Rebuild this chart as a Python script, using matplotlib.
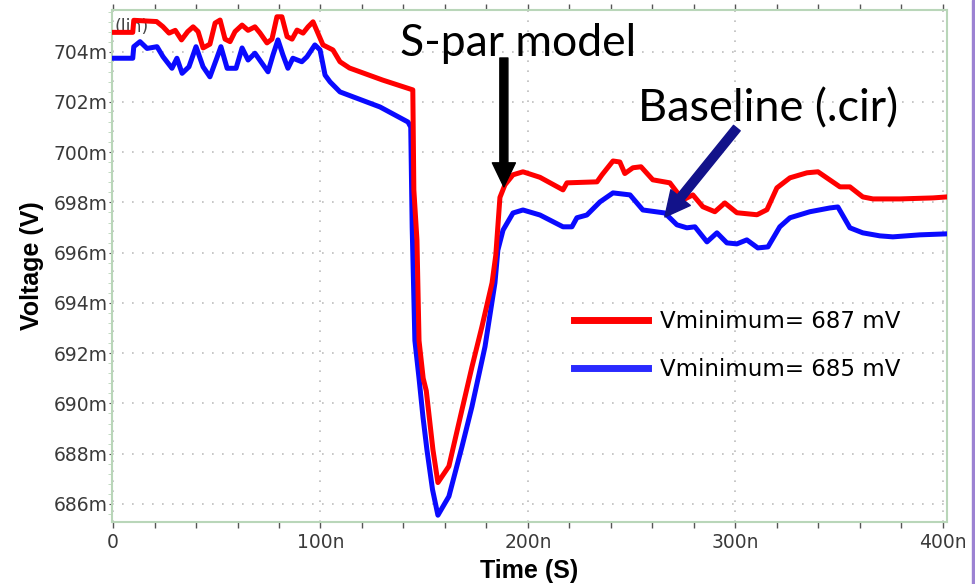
import matplotlib
matplotlib.use("Agg")
import matplotlib.pyplot as plt
from matplotlib.ticker import MultipleLocator, FuncFormatter
from matplotlib.lines import Line2D
from matplotlib.patches import Rectangle

# time in ns, voltage in mV
red_t = [0, 9.5, 10, 21, 24, 27, 30, 33, 36, 38.6, 41, 43.4, 46.7, 49.2, 51.6, 54, 56.4, 58.8,
         62.2, 65.1, 68.4, 70.8, 74.2, 76.6, 79, 81.4, 83.9, 86.3, 88.7, 91.6, 94, 96.4, 98.8,
         101.2, 106, 109.4, 114, 130, 144.5, 145.0, 146.5, 147.5, 149.5, 151, 154.2, 156.6,
         161.9, 168.2, 173, 177.8, 182.7, 184.5, 186.5, 188.9, 192.8, 197.6, 205.8, 216.9, 218.8,
         233.3, 235.7, 241, 244.3, 246.7, 250.6, 254.5, 260.2, 268.4, 274.7, 279.5, 284.3, 290.1,
         294.9, 300.7, 310.4, 315.2, 320, 326.3, 334.5, 339.8, 350.4, 355.2, 361.4, 366.3, 379.3,
         395.2, 402]
red_v = [704.77, 704.77, 705.25, 705.2, 705.0, 704.74, 704.85, 704.47, 704.8, 704.99, 704.8,
         704.15, 704.3, 705.14, 705.26, 704.5, 704.4, 704.8, 705.06, 704.85, 704.99, 704.75,
         704.35, 704.5, 705.39, 705.39, 704.6, 704.5, 704.86, 704.74, 704.99, 705.19, 704.73,
         704.27, 704.07, 703.6, 703.35, 702.87, 702.48, 698.5, 696.5, 692.5, 691.0, 690.5,
         688.16, 686.85, 687.5, 689.75, 691.45, 693.05, 694.8, 695.9, 698.2, 698.7, 699.1,
         699.22, 699.0, 698.5, 698.78, 698.82, 699.1, 699.65, 699.61, 699.15, 699.38, 699.42,
         698.9, 698.78, 698.1, 698.3, 697.83, 697.63, 697.98, 697.59, 697.51, 697.71, 698.58,
         698.98, 699.18, 699.22, 698.62, 698.62, 698.22, 698.14, 698.14, 698.18, 698.22]

blue_t = [0, 9.5, 10, 13, 16.4, 21.2, 24.1, 28.4, 30.8, 33.3, 36.6, 40, 43.4, 46.7, 50, 52, 55,
          59.3, 62.2, 65.1, 68.4, 71.8, 74.7, 77.1, 79.5, 81.9, 84.3, 86.7, 91, 93.5, 97.3, 99.8,
          102.2, 104.6, 109.4, 128.7, 142.2, 143.5, 144.2, 145.5, 147.5, 149.4, 151.3, 154,
          156.6, 161.9, 168.2, 173, 179.3, 184.1, 185.5, 188, 192.8, 197.6, 205.8, 216.9, 221.2,
          223.6, 228.4, 234.7, 241, 249.2, 255.4, 266, 271.8, 276.6, 280.5, 286.3, 291.1, 295.9,
          300.7, 305.5, 310.8, 315.7, 321.4, 326.3, 335.9, 345.5, 349.4, 355.2, 361.4, 369.6,
          375.9, 388.9, 402]
blue_v = [703.74, 703.74, 704.2, 704.4, 704.13, 704.2, 703.8, 703.34, 703.74, 703.14, 703.4,
          704.2, 703.4, 703.0, 703.74, 704.2, 703.34, 703.34, 704.15, 703.67, 703.94, 703.54,
          703.2, 703.87, 704.47, 703.87, 703.34, 703.74, 703.6, 703.8, 704.27, 704.07, 703.07,
          702.8, 702.4, 701.8, 701.2, 701.0, 697.0, 692.5, 691.0, 689.46, 688.16, 686.57,
          685.55, 686.3, 688.28, 689.87, 692.26, 694.8, 696.1, 696.9, 697.58, 697.7, 697.5,
          697.03, 697.03, 697.39, 697.5, 698.02, 698.38, 698.3, 697.7, 697.58, 697.11, 696.99,
          697.03, 696.43, 696.79, 696.39, 696.35, 696.51, 696.19, 696.23, 697.03, 697.39,
          697.63, 697.78, 697.82, 696.99, 696.79, 696.67, 696.63, 696.71, 696.75]

labels = ["Vminimum= 687 mV", "Vminimum= 685 mV"]

W, H = 975, 584
fig = plt.figure(figsize=(W / 100, H / 100), dpi=100)
ax = fig.add_axes([112 / W, 1 - 522 / H, (947 - 112) / W, (522 - 10) / H])

spine_col = "#b9d6b9"
for s in ax.spines.values():
    s.set_color(spine_col)
    s.set_linewidth(1.5)

ax.plot(blue_t, blue_v, color="#0a0aff", lw=3.6, solid_joinstyle="round", zorder=3)
ax.plot(red_t, red_v, color="#ff0000", lw=3.6, solid_joinstyle="round", zorder=4)

ax.set_xlim(-0.5, 402)
ax.set_ylim(685.28, 705.66)

ax.xaxis.set_major_locator(MultipleLocator(100))
ax.xaxis.set_minor_locator(MultipleLocator(20))
ax.yaxis.set_major_locator(MultipleLocator(2))
ax.yaxis.set_minor_locator(MultipleLocator(0.4))
ax.xaxis.set_major_formatter(FuncFormatter(lambda v, p: "0" if abs(v) < 1e-6 else f"{int(round(v))}n"))
ax.yaxis.set_major_formatter(FuncFormatter(lambda v, p: f"{int(round(v))}m"))

ax.tick_params(axis="both", which="both", colors="#555555", labelcolor="#3a3a3a", labelsize=13.5)
ax.tick_params(axis="x", which="both", direction="out", top=True, length=4, width=1)
ax.tick_params(axis="y", which="major", direction="out", length=2, pad=1)
ax.tick_params(axis="y", which="minor", direction="out", length=3, color=spine_col)
ax.tick_params(axis="x", which="major", pad=4)

ax.grid(True, which="major", color="#bdbdbd", linestyle=(0, (1, 5)), lw=1.2)

ax.set_xlabel("Time (S)", family="Liberation Sans", fontweight="bold", fontsize=18, labelpad=5)
ax.set_ylabel("Voltage (V)", family="Liberation Sans", fontweight="bold", fontsize=18, labelpad=7)

ax.text(0.003, 0.985, "(lin)", transform=ax.transAxes, fontsize=12.5, color="#444444",
        va="top", ha="left", zorder=1)

# annotations
ax.annotate("", xy=(188.4, 698.62), xytext=(188.4, 703.75),
            arrowprops=dict(arrowstyle="simple,head_width=1.66,head_length=1.73,tail_width=0.58",
                            mutation_scale=10, color="black", shrinkA=0, shrinkB=0), zorder=6)
ax.annotate("", xy=(266.0, 697.42), xytext=(300.7, 700.96),
            arrowprops=dict(arrowstyle="simple,head_width=1.8,head_length=1.8,tail_width=0.62",
                            mutation_scale=10, color="#12128a", shrinkA=0, shrinkB=0), zorder=6)

fig.text(518 / W, 1 - 43 / H, "S-par model", family="Lato", fontsize=32, ha="center", va="center")
fig.text(768 / W, 1 - 109 / H, "Baseline (.cir)", family="Lato", fontsize=32.5, ha="center", va="center")

handles = [Line2D([], [], color="#ff0000", lw=5), Line2D([], [], color="#2a2aff", lw=5)]
ax.legend(handles, labels, loc="upper left", bbox_to_anchor=(574 / W, 1 - 310 / H),
          bbox_transform=fig.transFigure, frameon=False, fontsize=16.5, handlelength=3.25,
          handletextpad=0.5, labelspacing=1.08, borderpad=0, borderaxespad=0)

fig.patches.append(Rectangle((972 / W, 0), 3 / W, 1, transform=fig.transFigure,
                             color="#9c82d2", zorder=0))

fig.savefig("out.png", dpi=100)
